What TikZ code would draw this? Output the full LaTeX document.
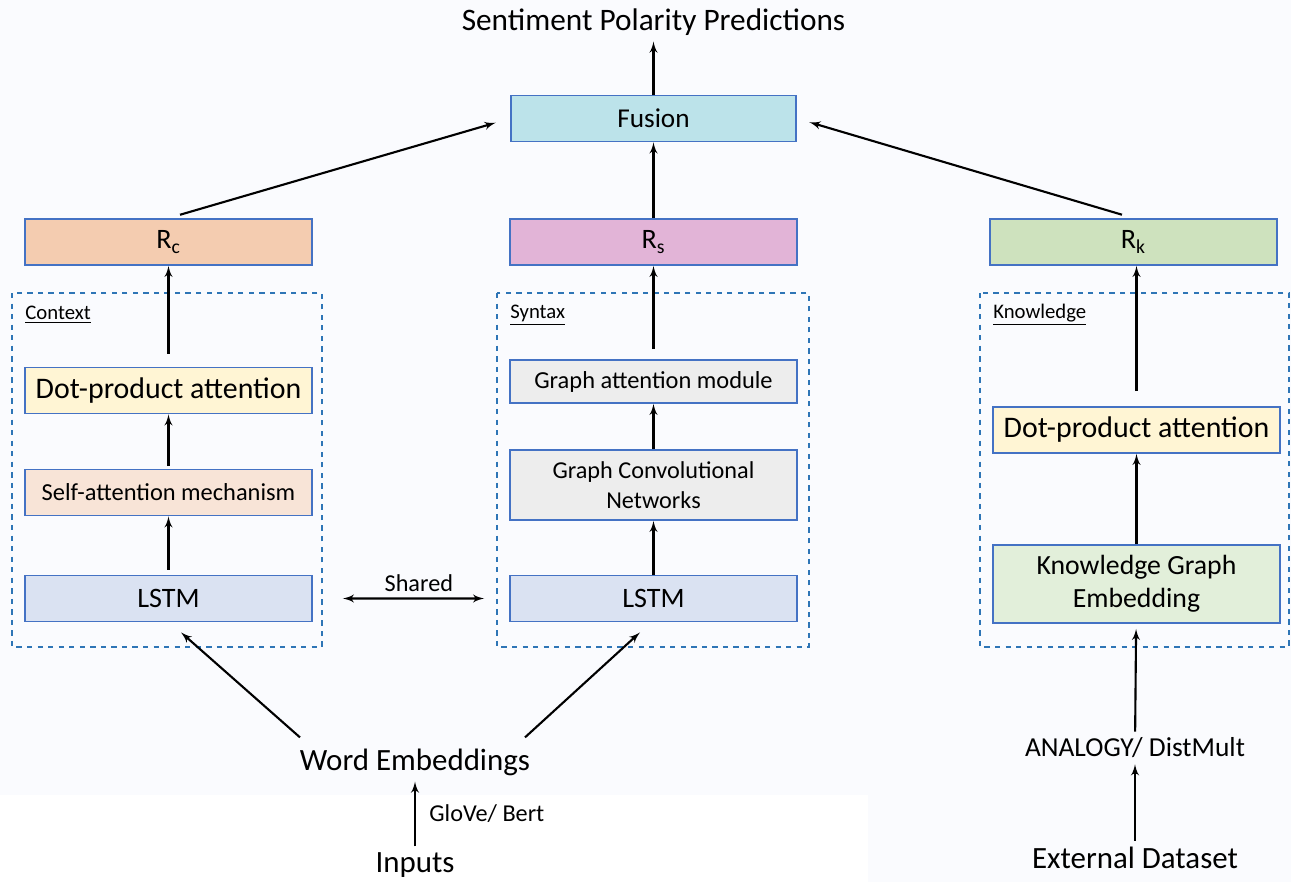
\documentclass[tikz,border=0pt]{standalone}
\usepackage{fontspec}
\setmainfont{Carlito}
\usepackage{xcolor}
\usetikzlibrary{arrows}

\definecolor{bordblue}{HTML}{4472C4}
\definecolor{dashblue}{HTML}{2E75B6}
\definecolor{bgcol}{HTML}{FAFBFE}
\definecolor{fusfill}{HTML}{BCE3EA}
\definecolor{rcfill}{HTML}{F4CCB0}
\definecolor{rsfill}{HTML}{E2B4D7}
\definecolor{rkfill}{HTML}{CEE2BE}
\definecolor{dotfill}{HTML}{FFF5D4}
\definecolor{selffill}{HTML}{F8E4D7}
\definecolor{lstmfill}{HTML}{DAE2F2}
\definecolor{grayfill}{HTML}{EDEDED}
\definecolor{kgefill}{HTML}{E2EFDA}

\begin{document}
\begin{tikzpicture}[node distance=2cm, auto,
    block/.style={rectangle, draw=bordblue, line width=1pt, minimum width=5.74cm, minimum height=0.92cm, align=center, font=\fontsize{16}{19}\selectfont},
    line/.style={draw, -latex', line width=1.2pt},
    group/.style={draw=dashblue, dashed, line width=0.9pt},
    tag/.style={anchor=west, inner sep=0pt, font=\fontsize{11.8}{14}\selectfont},
    bigtext/.style={font=\fontsize{17.6}{20}\selectfont},
    midtext/.style={font=\fontsize{15.6}{18}\selectfont},
    smalltext/.style={font=\fontsize{13.8}{16}\selectfont}]

    % Background
    \fill[bgcol] (0,0) rectangle (25.82,-17.64);
    \fill[white] (0,-15.9) rectangle (17.36,-17.64);
    \useasboundingbox (0,0) rectangle (25.82,-17.64);

    % Representations and fusion
    \node [block, fill=rsfill] (rs) at (13.07,-4.84) {R\textsubscript{s}};
    \node [block, fill=rcfill, left of=rs, node distance=9.7cm] (rc) {R\textsubscript{c}};
    \node [block, fill=rkfill, right of=rs, node distance=9.6cm] (rk) {R\textsubscript{k}};
    \node [block, fill=fusfill, above of=rs, node distance=2.47cm, minimum width=5.7cm, font=\fontsize{15.5}{18}\selectfont] (fusion) {Fusion};
    \node [bigtext, above of=fusion, node distance=1.93cm, font=\fontsize{17.8}{20}\selectfont] (pred) {Sentiment Polarity Predictions};

    % Context
    \node [block, fill=dotfill, below of=rc, node distance=2.97cm, font=\fontsize{17}{20}\selectfont] (dotc) {Dot-product attention};
    \node [block, fill=selffill, below of=dotc, node distance=2.04cm, font=\fontsize{13.9}{16}\selectfont] (selfc) {Self-attention mechanism};
    \node [block, fill=lstmfill, below of=selfc, node distance=2.12cm] (lstmc) {LSTM};

    % Syntax
    \node [block, fill=grayfill, below of=rs, node distance=2.79cm, minimum height=0.86cm, font=\fontsize{13.9}{16}\selectfont] (gat) {Graph attention module};
    \node [block, fill=grayfill, below of=gat, node distance=2.07cm, minimum height=1.4cm, font=\fontsize{13.8}{17}\selectfont] (gcn) {Graph Convolutional\\Networks};
    \node [block, fill=lstmfill, below of=gcn, node distance=2.27cm] (lstms) {LSTM};

    % Knowledge
    \node [block, fill=dotfill, below of=rk, node distance=3.76cm, xshift=0.06cm, font=\fontsize{17}{20}\selectfont] (dotk) {Dot-product attention};
    \node [block, fill=kgefill, below of=dotk, node distance=3.08cm, minimum height=1.56cm, font=\fontsize{15.8}{19}\selectfont] (kge) {Knowledge Graph\\Embedding};

    % Dashed groups
    \draw [group] (0.24,-5.86) rectangle (6.44,-12.94);
    \draw [group] (9.94,-5.86) rectangle (16.18,-12.94);
    \draw [group] (19.6,-5.86) rectangle (25.78,-12.94);
    \node [tag] (ctx) at (0.5,-6.3) {\underline{Context}};
    \node [tag] (syn) at (10.2,-6.3) {\underline{Syntax}};
    \node [tag] (kno) at (19.86,-6.3) {\underline{Knowledge}};

    % Inputs
    \node [bigtext] (we) at (8.3,-15.24) {Word Embeddings};
    \node [bigtext, below of=we, node distance=2.06cm] (inputs) {Inputs};
    \node [midtext] (analogy) at (22.7,-14.96) {ANALOGY/ DistMult};
    \node [midtext, below of=analogy, node distance=2.2cm, font=\fontsize{17.6}{20}\selectfont] (ext) {External Dataset};

    % Paths
    \path [line] (fusion) -- (pred);
    \path [line] (rs) -- (fusion);
    \path [line, shorten <=0.24cm, shorten >=0.3cm] (rc.north) -- (fusion.west);
    \path [line, shorten <=0.24cm, shorten >=0.26cm] (rk.north) -- (fusion.east);
    \path [line, shorten <=0.26cm] (dotc) -- (rc);
    \path [line, shorten <=0.05cm] (selfc) -- (dotc);
    \path [line, shorten <=0.1cm] (lstmc) -- (selfc);
    \path [line, shorten <=0.2cm] (gat) -- (rs);
    \path [line] (gcn) -- (gat);
    \path [line] (lstms) -- (gcn);
    \path [line, shorten <=0.3cm] (dotk.north) -- (dotk.north |- rk.south);
    \path [line] (kge) -- (dotk);
    \path [line, latex'-latex', shorten <=0.6cm, shorten >=0.5cm] (lstmc.east) -- node [above, pos=0.54, smalltext] {Shared} (lstms.west);
    \path [line] ([xshift=-2.3cm,yshift=0.1cm]we.north) -- ([xshift=0.25cm,yshift=-0.2cm]lstmc.south);
    \path [line] ([xshift=2.2cm,yshift=0.1cm]we.north) -- ([xshift=-0.27cm,yshift=-0.2cm]lstms.south);
    \path [line] (inputs) -- node [right, xshift=0.15cm, smalltext] {GloVe/ Bert} (we);
    \path [line, shorten >=0.1cm] (analogy) -- (kge);
    \path [line] (ext) -- (analogy);

\end{tikzpicture}
\end{document}
